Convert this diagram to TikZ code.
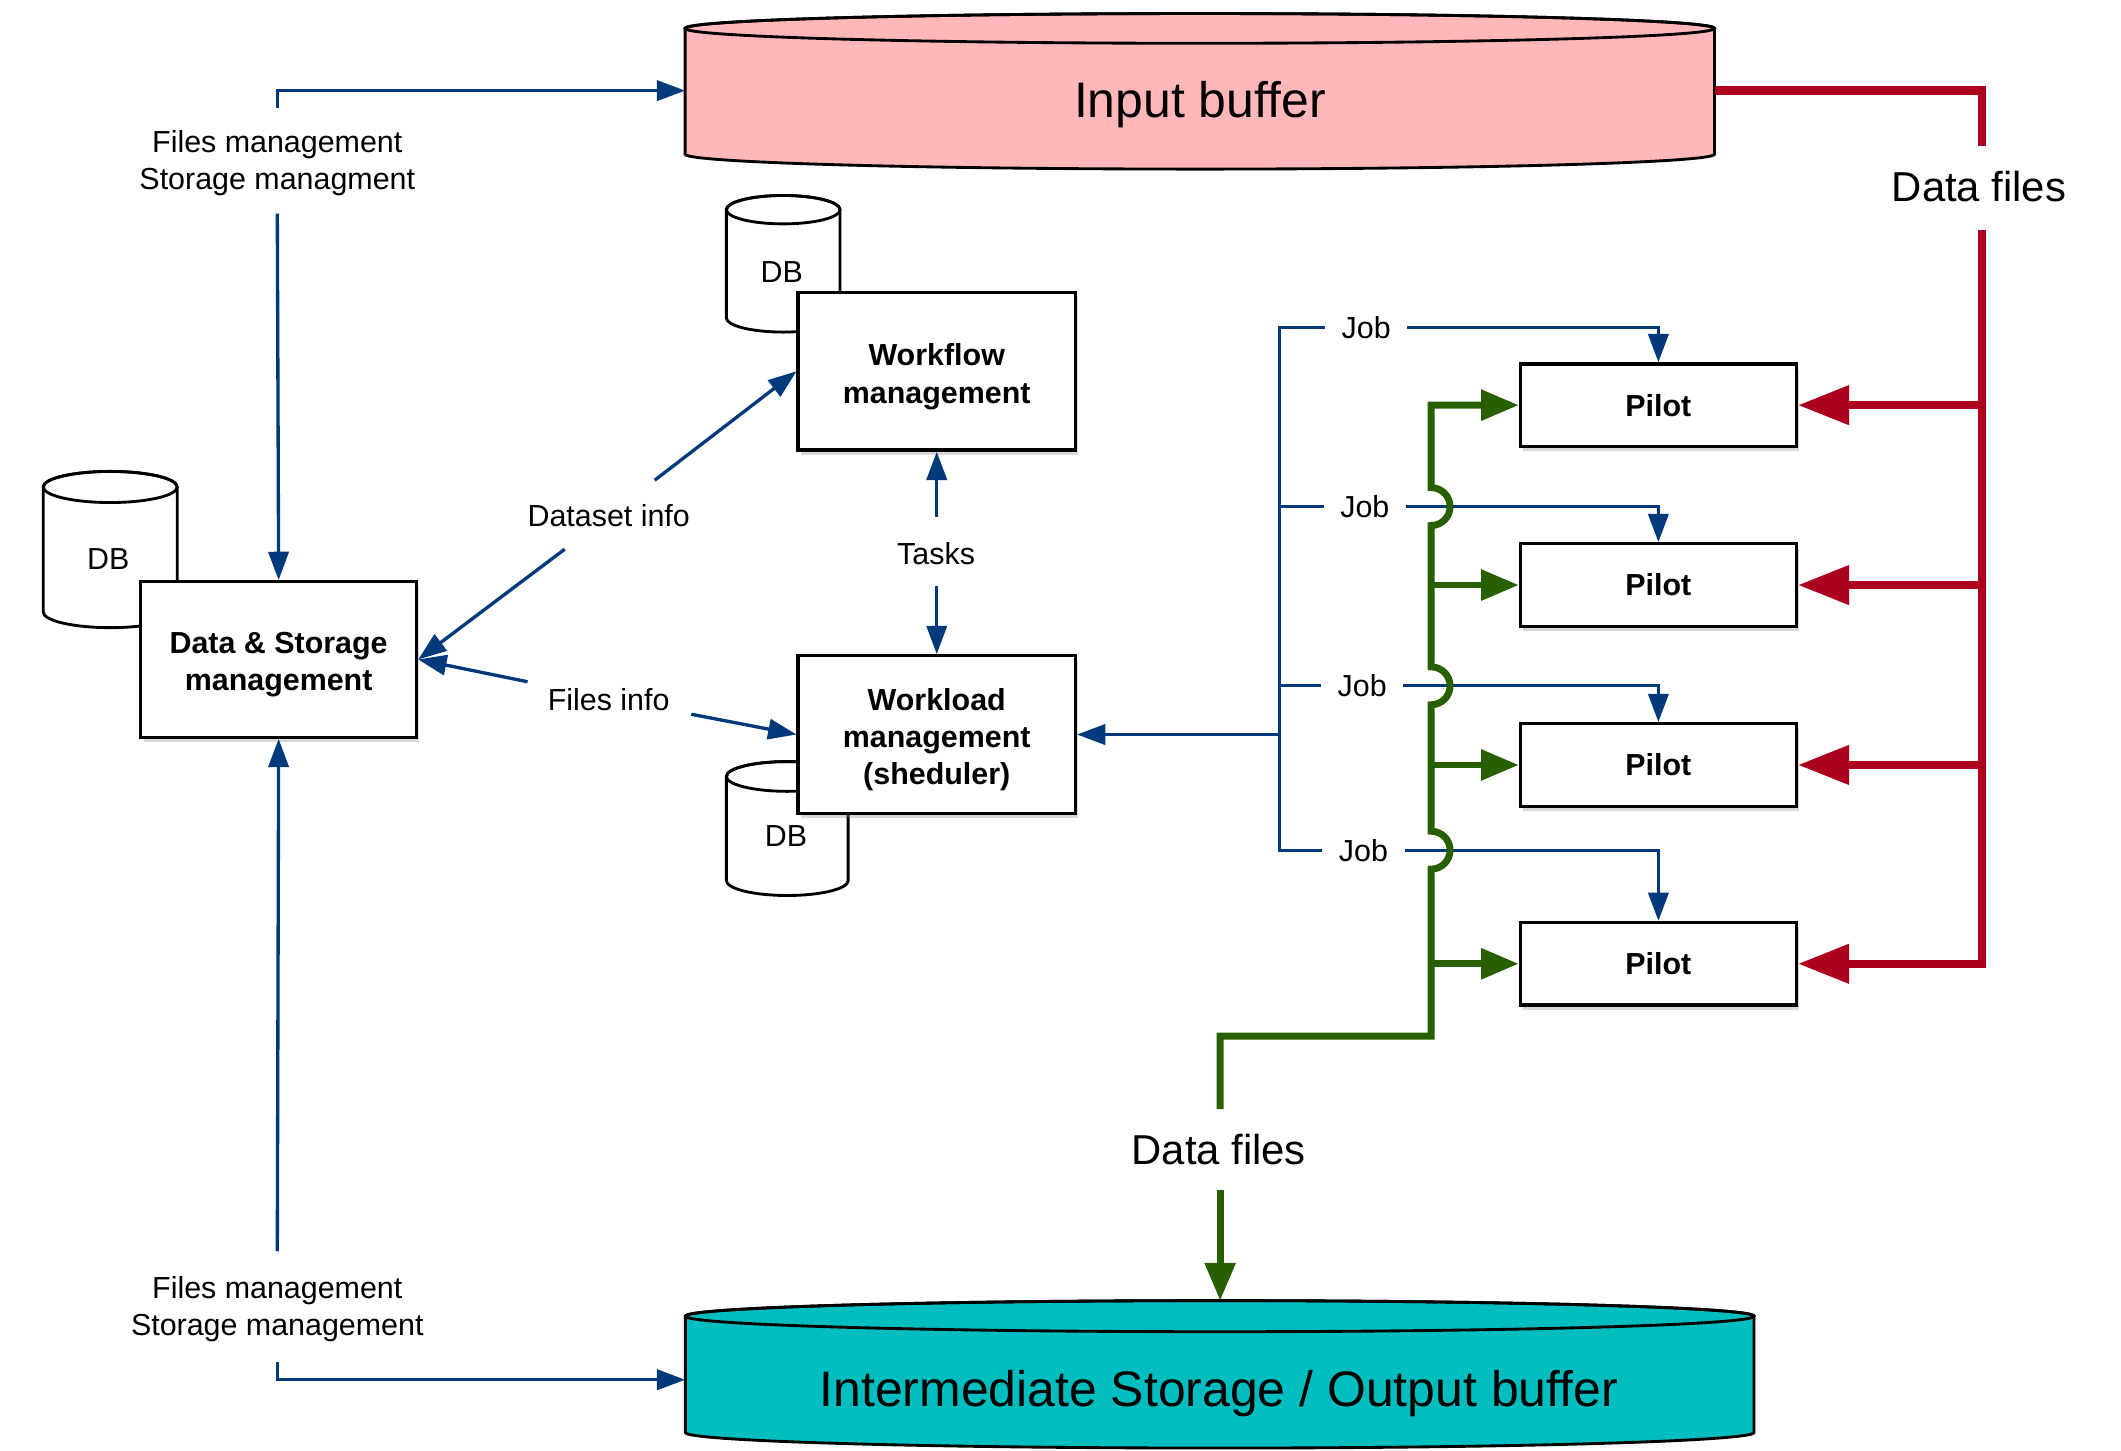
\documentclass[tikz,border=0pt]{standalone}
\usepackage{fontspec}
\setmainfont{Liberation Sans}
\usetikzlibrary{arrows.meta,shadows,calc}
\definecolor{bl}{RGB}{0,58,122}
\definecolor{gr}{RGB}{40,96,0}
\definecolor{rd}{RGB}{172,0,30}
\definecolor{pinkfill}{RGB}{255,183,186}
\definecolor{tealfill}{RGB}{0,189,191}
\newcommand\cylshape[6]{%
  \filldraw[fill=#6, line width=1.2pt] (#1-#4,#2) -- (#1-#4,#3)
    arc[start angle=180, end angle=360, x radius={#4*0.02cm}, y radius={#5*0.02cm}]
    -- (#1+#4,#2)
    arc[start angle=0, end angle=180, x radius={#4*0.02cm}, y radius={#5*0.02cm}] -- cycle;
  \draw[line width=1.2pt] (#1,#2) ellipse[x radius={#4*0.02cm}, y radius={#5*0.02cm}];
}
\begin{document}
\begin{tikzpicture}[x=0.02cm,y=-0.02cm,
  every node/.style={font=\fontsize{12.8}{15.6}\selectfont},
  box/.style={draw, line width=1.4pt, fill=white, align=center, inner sep=0pt,
    font=\fontsize{12.8}{15.6}\selectfont\bfseries,
    drop shadow={shadow xshift=1.2pt, shadow yshift=-2pt, opacity=0.3}},
  boxtext/.style={align=center, inner sep=0pt, font=\fontsize{12.8}{15.6}\selectfont\bfseries},
  bigbox/.style={box, minimum width=4.1cm, minimum height=2.33cm},
  pilotbox/.style={box, minimum width=4.08cm, minimum height=1.22cm},
  lbl/.style={align=center, inner sep=0pt},
  joblbl/.style={lbl, inner xsep=0.24cm},
  bline/.style={draw=bl, line width=1.4pt},
  barrow/.style={bline, -{Triangle[length=11.9pt,width=8.5pt]}},
  gline/.style={draw=gr, line width=2.9pt},
  garrow/.style={gline, -{Triangle[length=15.9pt,width=12.5pt]}},
  rline/.style={draw=rd, line width=3.5pt},
  rarrow/.style={rline, -{Triangle[length=21.5pt,width=15.9pt]}},
  big/.style={font=\fontsize{21}{25}\selectfont},
  mid/.style={font=\fontsize{17.6}{21}\selectfont}
]
\fill[white] (0,0) rectangle (1568,1072);
\useasboundingbox (0,0) rectangle (1568,1072);

% storage cylinders
\cylshape{887}{21}{114}{380.5}{11}{pinkfill}
\node[big] (ib) at (887,77) {Input buffer};
\coordinate (ibW) at (506.5,67);
\coordinate (ibE) at (1267.5,67);

\cylshape{901.7}{973}{1059}{395}{11.5}{tealfill}
\node[big] (isob) at (901,1030) {Intermediate Storage / Output buffer};
\coordinate (isW) at (506.6,1020);
\coordinate (isN) at (902,961.5);

% DB cylinders and boxes
\cylshape{81.5}{360}{452.5}{49.5}{11.5}{white}
\node (db1) at (80,413) {DB};
\node[bigbox, minimum width=4.08cm, minimum height=2.3cm] (ds) at (206,487.5) {};
\node[boxtext] (dst) at (206,491.5) {Data \& Storage\\management};

\cylshape{579}{155}{235}{42}{10.5}{white}
\node (db2) at (578,201) {DB};
\node[bigbox] (wf) at (692.5,274.5) {};
\node[boxtext] (wft) at (692.5,278.5) {Workflow\\management};

\cylshape{582}{574}{651}{45}{11}{white}
\node (db3) at (581,618) {DB};
\node[bigbox] (wl) at (692.5,543) {};
\node[boxtext] (wlt) at (692.5,547) {Workload\\management\\(sheduler)};

% pilots
\node[pilotbox] (p1) at (1226,299.5) {Pilot};
\node[pilotbox] (p2) at (1226,432.5) {Pilot};
\node[pilotbox] (p3) at (1226,565.5) {Pilot};
\node[pilotbox] (p4) at (1226,712.5) {Pilot};

% labels
\node[lbl] (fm1) at (205,120.5) {Files management\\Storage managment};
\node[lbl] (fm2) at (205,968) {Files management\\Storage management};
\node[lbl] (dsi) at (450,381) {Dataset info};
\node[lbl] (fi) at (450,517.5) {Files info};
\node[lbl] (tk) at (692,409) {Tasks};
\node[joblbl] (j1) at (1010,242) {Job};
\node[joblbl] (j2) at (1009,374.5) {Job};
\node[joblbl] (j3) at (1007,507) {Job};
\node[joblbl] (j4) at (1008,628.5) {Job};
\node[lbl, mid] (df1) at (1463,138) {Data files};
\node[lbl, mid] (df2) at (901,850) {Data files};

% blue connectors, left part
\coordinate (c1) at (205,80);
\coordinate (c2) at (205,158);
\coordinate (c3) at (205,925);
\coordinate (c4) at (205,1007);
\draw[barrow] (c1) |- (ibW);
\draw[barrow] (c2) -- (ds.north);
\draw[barrow] (c3) -- (ds.south);
\draw[barrow] (c4) |- (isW);

\coordinate (d1) at (484,355);
\coordinate (d2) at (417.5,406);
\draw[barrow] (d1) -- (wf.west);
\draw[barrow] (d2) -- (ds.east);
\coordinate (f1) at (390,504);
\coordinate (f2) at (511,528);
\draw[barrow] (f1) -- (ds.east);
\draw[barrow] (f2) -- (wl.west);
\coordinate (t1) at (692.5,382);
\coordinate (t2) at (692.5,433);
\draw[barrow] (t1) -- (wf.south);
\draw[barrow] (t2) -- (wl.north);

% blue job bus
\coordinate (bus) at (946,543);
\coordinate (bb) at (946,628.5);
\draw[barrow] (bus) -- (wl.east);
\draw[bline] (j1.west) -| (bb) -- (j4.west);
\draw[bline] (j2.west -| bb) -- (j2.west);
\draw[bline] (j3.west -| bb) -- (j3.west);
\draw[barrow] (j1.east) -| (p1.north);
\draw[barrow] (j2.east) -| (p2.north);
\draw[barrow] (j3.east) -| (p3.north);
\draw[barrow] (j4.east) -| (p4.north);

% green data flow
\coordinate (g0) at (902,820);
\coordinate (g1) at (1058,766);
\coordinate (g2) at (902,880);
\draw[garrow] (g0) |- (g1)
  -- ($(j4.west -| g1)+(0,14)$) arc[start angle=-90, end angle=90, radius=0.28cm]
  -- ($(j3.west -| g1)+(0,14)$) arc[start angle=-90, end angle=90, radius=0.28cm]
  -- ($(j2.west -| g1)+(0,14)$) arc[start angle=-90, end angle=90, radius=0.28cm]
  -- (p1.west -| g1) -- (p1.west);
\draw[garrow] (p2.west -| g1) -- (p2.west);
\draw[garrow] (p3.west -| g1) -- (p3.west);
\draw[garrow] (p4.west -| g1) -- (p4.west);
\draw[garrow] (g2) -- (isN);

% red data flow
\coordinate (r0) at (1465,108);
\coordinate (r1) at (1465,170);
\draw[rline] (ibE) -| (r0);
\draw[rarrow] (r1) |- (p4.east);
\draw[rarrow] (p1.east -| r1) -- (p1.east);
\draw[rarrow] (p2.east -| r1) -- (p2.east);
\draw[rarrow] (p3.east -| r1) -- (p3.east);
\end{tikzpicture}
\end{document}
